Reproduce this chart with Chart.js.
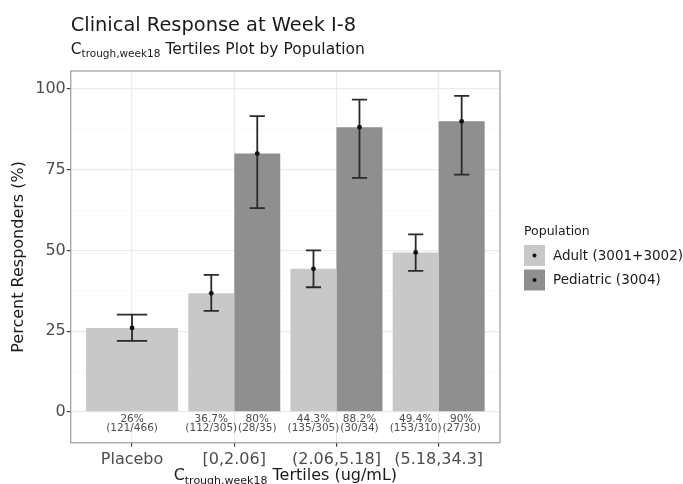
<!DOCTYPE html>
<html>
<head>
<meta charset="utf-8">
<script src="https://cdn.jsdelivr.net/npm/chart.js@4.4.1/dist/chart.umd.min.js"></script>
<style>
  html, body { margin: 0; padding: 0; background: #fff; }
</style>
</head>
<body>
<canvas id="respChart" width="683" height="484"></canvas>
<script>
// data
const categories = ['Placebo', '[0,2.06]', '(2.06,5.18]', '(5.18,34.3]'];
const adultPct  = [26, 36.7, 44.3, 49.4];
const adultLow  = [22.0, 31.3, 38.6, 43.7];
const adultHigh = [30.1, 42.4, 50.0, 55.0];
const adultN    = ['121/466', '112/305', '135/305', '153/310'];
const pedPct    = [null, 80, 88.2, 90];
const pedLow    = [null, 63.1, 72.5, 73.5];
const pedHigh   = [null, 91.6, 96.7, 97.9];
const pedN      = [null, '28/35', '30/34', '27/30'];
const yTicks    = [0, 12.5, 25, 37.5, 50, 62.5, 75, 87.5, 100];

const FONT = '"DejaVu Sans", Verdana, sans-serif';
const isMajor = v => v % 25 === 0;

function toXY(arr){ return arr.map((v, i) => ({ x: i, y: v })); }

// text with a subscript piece, e.g. C_trough,week18
function drawRich(ctx, parts, x, y, align){
  let w = 0;
  for (const p of parts){ ctx.font = p.size + 'px ' + FONT; w += ctx.measureText(p.t).width; }
  let cx = align === 'center' ? x - w / 2 : x;
  ctx.textAlign = 'left';
  ctx.textBaseline = 'alphabetic';
  for (const p of parts){
    ctx.font = p.size + 'px ' + FONT;
    ctx.fillText(p.t, cx, y + (p.dy || 0));
    cx += ctx.measureText(p.t).width;
  }
}

const decor = {
  id: 'decor',
  afterDatasetsDraw(chart){
    const ctx = chart.ctx;
    const ys = chart.scales.y;
    const zero = ys.getPixelForValue(0);
    chart.data.datasets.forEach((ds, di) => {
      const meta = chart.getDatasetMeta(di);
      meta.data.forEach((el, i) => {
        const v = ds.data[i].y;
        if (v === null || v === undefined) return;
        const x = el.x;
        const lo = ys.getPixelForValue(ds.low[i]);
        const hi = ys.getPixelForValue(ds.high[i]);
        const cap = el.width * 0.33;
        ctx.save();
        ctx.strokeStyle = '#2a2a2a';
        ctx.lineWidth = 1.8;
        ctx.beginPath();
        ctx.moveTo(x, lo); ctx.lineTo(x, hi);
        ctx.moveTo(x - cap / 2, lo); ctx.lineTo(x + cap / 2, lo);
        ctx.moveTo(x - cap / 2, hi); ctx.lineTo(x + cap / 2, hi);
        ctx.stroke();
        ctx.fillStyle = '#111';
        ctx.beginPath();
        ctx.arc(x, ys.getPixelForValue(v), 2.4, 0, Math.PI * 2);
        ctx.fill();
        // count labels under the bars
        ctx.fillStyle = '#4d4d4d';
        ctx.font = '10.5px ' + FONT;
        ctx.textAlign = 'center';
        ctx.textBaseline = 'middle';
        ctx.fillText(v + '%', x, zero + 7);
        ctx.fillText('(' + ds.counts[i] + ')', x, zero + 16);
        ctx.restore();
      });
    });
  },
  afterDraw(chart){
    const ctx = chart.ctx;
    const a = chart.chartArea;
    ctx.save();
    // panel border
    ctx.strokeStyle = '#9a9a9a';
    ctx.lineWidth = 1.2;
    ctx.strokeRect(a.left, a.top, a.right - a.left, a.bottom - a.top);

    // titles
    ctx.fillStyle = '#1a1a1a';
    drawRich(ctx, [{ t: 'Clinical Response at Week I-8', size: 19.4 }], a.left, 31, 'left');
    drawRich(ctx, [
      { t: 'C', size: 15.5 },
      { t: 'trough,week18', size: 10.5, dy: 3 },
      { t: ' Tertiles Plot by Population', size: 15.5 }
    ], a.left, 54, 'left');

    // x axis title
    drawRich(ctx, [
      { t: 'C', size: 16 },
      { t: 'trough,week18', size: 11, dy: 3.5 },
      { t: ' Tertiles (ug/mL)', size: 16 }
    ], (a.left + a.right) / 2, 480, 'center');

    // legend
    const lx = a.right + 24;
    ctx.fillStyle = '#1a1a1a';
    ctx.font = '12.5px ' + FONT;
    ctx.textAlign = 'left';
    ctx.textBaseline = 'alphabetic';
    ctx.fillText('Population', lx, 235);
    chart.data.datasets.forEach((ds, i) => {
      const ky = 245 + i * 24.5;
      ctx.fillStyle = ds.backgroundColor;
      ctx.fillRect(lx, ky, 21, 21);
      ctx.fillStyle = '#111';
      ctx.beginPath();
      ctx.arc(lx + 10.5, ky + 10.5, 2, 0, Math.PI * 2);
      ctx.fill();
      ctx.fillStyle = '#1a1a1a';
      ctx.font = '13.5px ' + FONT;
      ctx.textBaseline = 'middle';
      ctx.fillText(ds.label, lx + 29, ky + 11);
    });
    ctx.restore();
  }
};

const respChart = new Chart(document.getElementById('respChart'), {
  type: 'bar',
  data: {
    datasets: [{
      label: 'Adult (3001+3002)',
      data: toXY(adultPct),
      backgroundColor: '#c8c8c8',
      low: adultLow, high: adultHigh, counts: adultN
    }, {
      label: 'Pediatric (3004)',
      data: toXY(pedPct),
      backgroundColor: '#8f8f8f',
      low: pedLow, high: pedHigh, counts: pedN
    }]
  },
  options: {
    responsive: false,
    animation: false,
    datasets: { bar: { categoryPercentage: 0.9, barPercentage: 1, skipNull: true } },
    layout: { padding: { left: 5, top: 71, right: 183, bottom: 12 } },
    plugins: { legend: { display: false }, tooltip: { enabled: false }, title: { display: false } },
    scales: {
      x: {
        type: 'linear',
        offset: false,
        min: -0.6, max: 3.6,
        afterBuildTicks: s => { s.ticks = categories.map((_, i) => ({ value: i })); },
        ticks: {
          callback: v => categories[v],
          autoSkip: false, maxRotation: 0, padding: 3,
          color: '#4d4d4d', font: { family: FONT, size: 16 }
        },
        grid: { offset: false, color: '#ebebeb', lineWidth: 1.2, tickLength: 4, tickColor: '#333', tickWidth: 1.1 },
        border: { display: false }
      },
      y: {
        min: -9.6, max: 105.6,
        afterBuildTicks: s => { s.ticks = yTicks.map(v => ({ value: v })); },
        ticks: {
          callback: v => isMajor(v) ? v : '',
          padding: 1, color: '#4d4d4d', font: { family: FONT, size: 16 }
        },
        grid: {
          color: c => c.tick && isMajor(c.tick.value) ? '#ebebeb' : '#f5f5f5',
          lineWidth: c => c.tick && isMajor(c.tick.value) ? 1.2 : 0.6,
          tickColor: c => c.tick && isMajor(c.tick.value) ? '#333' : 'rgba(0,0,0,0)',
          tickLength: 4, tickWidth: 1.1
        },
        border: { display: false },
        title: {
          display: true, text: 'Percent Responders (%)', color: '#1a1a1a',
          font: { family: FONT, size: 16 }, padding: { top: 4, bottom: 6 }
        }
      }
    }
  },
  plugins: [decor]
});
</script>
</body>
</html>
